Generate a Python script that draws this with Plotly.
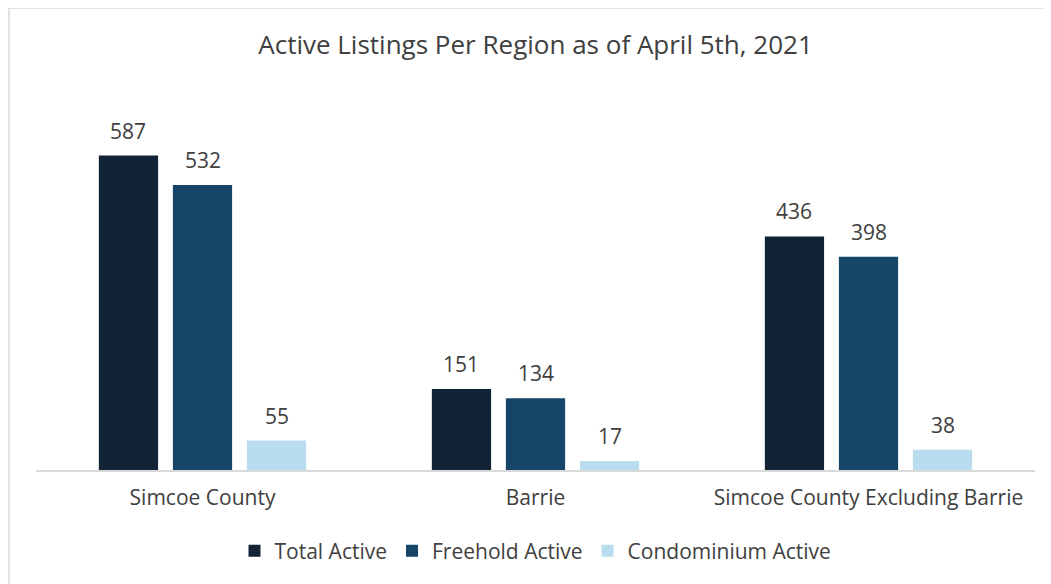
import plotly.graph_objects as go

regions = ['Simcoe County', 'Barrie', 'Simcoe County Excluding Barrie']
total_active = [587, 151, 436]
freehold_active = [532, 134, 398]
condo_active = [55, 17, 38]

series = [
    ('Total Active', total_active, '#112335'),
    ('Freehold Active', freehold_active, '#154669'),
    ('Condominium Active', condo_active, '#badcef'),
]

FONT = 'Open Sans, Noto Sans, sans-serif'
GREY_TEXT = '#404040'
BARGAP = 0.333

fig = go.Figure()
for name, vals, color in series:
    fig.add_trace(go.Bar(
        x=regions,
        y=vals,
        name=name,
        marker=dict(color=color, line=dict(width=0)),
    ))

# value labels: same grouped offsets plotly uses for the bars
slot = (1 - BARGAP) / len(series)
for k, (name, vals, color) in enumerate(series):
    offset = (k - (len(series) - 1) / 2) * slot
    for i, v in enumerate(vals):
        fig.add_annotation(
            x=i + offset, y=v, xref='x', yref='y',
            text=str(v), showarrow=False,
            yanchor='bottom', yshift=9,
            font=dict(family=FONT, size=21, color=GREY_TEXT),
        )

# page body adds an 8px margin, so the figure is sized to fit the window
fig.update_layout(
    width=1043, height=576,
    autosize=False,
    barmode='group',
    bargap=BARGAP,
    bargroupgap=0.2,
    plot_bgcolor='white',
    paper_bgcolor='white',
    margin=dict(l=28, r=16, t=87, b=111),
    title=dict(
        text='Active Listings Per Region as of April 5th, 2021',
        x=0.5, xref='paper', xanchor='center',
        y=1 - 37 / 576, yref='container', yanchor='middle',
        font=dict(family=FONT, size=26, color=GREY_TEXT),
    ),
    font=dict(family=FONT, size=21, color=GREY_TEXT),
    showlegend=True,
    legend=dict(
        orientation='h',
        x=0.5, xanchor='center',
        y=-0.216, yanchor='middle',
        font=dict(family=FONT, size=21, color=GREY_TEXT),
        itemwidth=30,
        traceorder='normal',
    ),
    xaxis=dict(
        showline=True, linecolor='#d9d9d9', linewidth=1.5,
        ticks='outside', ticklen=8, tickcolor='rgba(0,0,0,0)',
        showgrid=False,
        tickfont=dict(family=FONT, size=21, color=GREY_TEXT),
    ),
    yaxis=dict(
        range=[0, 700],
        visible=False,
        showgrid=False,
        zeroline=False,
    ),
)

# thin chart-area border at top and left, as in the source
fig.add_shape(type='line', xref='paper', yref='paper',
              x0=-0.027, x1=1.05, y0=1.232, y1=1.232,
              line=dict(color='#d9d9d9', width=1.5))
fig.add_shape(type='line', xref='paper', yref='paper',
              x0=-0.027, x1=-0.027, y0=-0.35, y1=1.232,
              line=dict(color='#d9d9d9', width=1.5))

fig.write_html("out.html")
